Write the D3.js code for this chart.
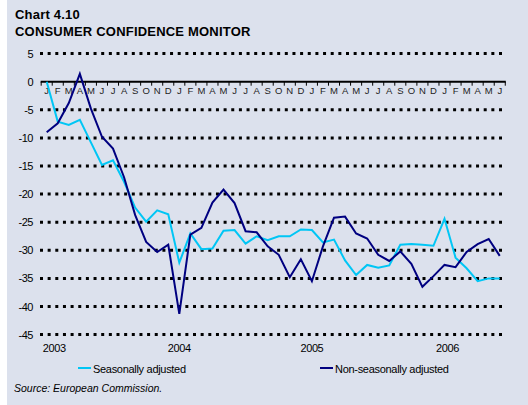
<!DOCTYPE html>
<html>
<head>
<meta charset="utf-8">
<script src="https://cdn.jsdelivr.net/npm/d3@7"></script>
<style>
  html, body { margin: 0; padding: 0; background: #fff; }
  svg { display: block; font-family: "Liberation Sans", Arial, sans-serif; }
</style>
</head>
<body>
<div id="chart"></div>
<script>
// monthly data, Jan 2003 .. Jun 2006
const monthLetters = ["J","F","M","A","M","J","J","A","S","O","N","D"];
const years = [2003, 2004, 2005, 2006];
const yTicks = [5, 0, -5, -10, -15, -20, -25, -30, -35, -40, -45];

const seasonal = [
    0, -7.1, -7.7, -6.8, -10.8, -14.8, -14.0, -17.8, -22.4, -24.9, -22.9, -23.6,
    -32.2, -27.0, -29.8, -29.7, -26.5, -26.4, -28.8, -27.5, -28.2, -27.5, -27.5, -26.3,
    -26.4, -28.6, -28.1, -31.8, -34.4, -32.6, -33.1, -32.7, -29.0, -28.9, -29.0, -29.2,
    -24.4, -31.3, -33.2, -35.5, -35.0, -35.0
];
const nonSeasonal = [
    -9.0, -7.4, -3.8, 1.4, -4.8, -9.8, -11.9, -17.0, -23.7, -28.5, -30.3, -29.0,
    -41.3, -27.2, -26.0, -21.5, -19.2, -21.6, -26.6, -26.8, -29.3, -30.8, -34.8, -31.6,
    -35.5, -29.3, -24.2, -24.0, -27.0, -27.9, -30.8, -31.9, -30.2, -32.4, -36.5, -34.6,
    -32.6, -33.0, -30.3, -28.9, -28.0, -31.0
];

const width = 528, height = 405;
const bg = "#dce1ed";
const lightBlue = "#00c6f5";
const navy = "#000080";

const svg = d3.select("#chart")
    .append("svg")
    .attr("width", width)
    .attr("height", height)
    .attr("viewBox", [0, 0, width, height]);

svg.append("rect")
    .attr("x", 7).attr("y", 0)
    .attr("width", width - 7).attr("height", height)
    .attr("fill", bg);

// titles
svg.append("text")
    .attr("x", 15).attr("y", 18.5)
    .style("font-size", "13px").style("font-weight", "bold")
    .style("letter-spacing", "0.2px")
    .text("Chart 4.10");
svg.append("text")
    .attr("x", 15).attr("y", 36)
    .style("font-size", "13px").style("font-weight", "bold")
    .style("letter-spacing", "0.2px")
    .text("CONSUMER CONFIDENCE MONITOR");

const n = seasonal.length;
const x = d3.scaleLinear().domain([0, n - 1]).range([46.7, 46.7 + 11.05 * (n - 1)]);
const y = d3.scaleLinear().domain([5, -45]).range([53.6, 334.6]);

// dotted grid lines
svg.append("g")
    .selectAll("line")
    .data(yTicks.filter(d => d !== 0))
    .join("line")
    .attr("x1", 40).attr("x2", 504)
    .attr("y1", d => y(d)).attr("y2", d => y(d))
    .attr("stroke", "#000")
    .attr("stroke-width", 3)
    .attr("stroke-dasharray", "3,4.65");

// y labels
svg.append("g")
    .selectAll("text")
    .data(yTicks)
    .join("text")
    .attr("x", 33)
    .attr("y", d => y(d) + 4)
    .attr("text-anchor", "end")
    .style("font-size", "11px")
    .style("letter-spacing", "-0.5px")
    .text(d => d);

// zero axis with month ticks at month boundaries
const x0 = x(-0.5), x1 = x(n - 0.5);
svg.append("line")
    .attr("x1", x0 - 0.5).attr("x2", x1 + 0.5)
    .attr("y1", y(0)).attr("y2", y(0))
    .attr("stroke", "#000").attr("stroke-width", 2);
svg.append("g")
    .selectAll("line")
    .data(d3.range(n + 1))
    .join("line")
    .attr("x1", d => x(d - 0.5)).attr("x2", d => x(d - 0.5))
    .attr("y1", y(0)).attr("y2", y(0) + 4)
    .attr("stroke", "#000").attr("stroke-width", 1);

svg.append("g")
    .selectAll("text")
    .data(d3.range(n))
    .join("text")
    .attr("x", d => x(d))
    .attr("y", y(0) + 12.5)
    .attr("text-anchor", "middle")
    .style("font-size", "9.5px")
    .style("fill", "#222")
    .text(d => monthLetters[d % 12]);

// year labels
svg.append("g")
    .selectAll("text")
    .data(years)
    .join("text")
    .attr("x", (d, i) => x(i * 12) + (i === 0 ? 7.5 : i === 3 ? 3 : 0))
    .attr("y", 352)
    .attr("text-anchor", "middle")
    .style("font-size", "11px")
    .style("letter-spacing", "-0.4px")
    .text(d => d);

// lines
const line = d3.line()
    .x((d, i) => x(i))
    .y(d => y(d));

svg.append("path")
    .datum(seasonal)
    .attr("d", line)
    .attr("fill", "none")
    .attr("stroke", lightBlue)
    .attr("stroke-width", 2);

svg.append("path")
    .datum(nonSeasonal)
    .attr("d", line)
    .attr("fill", "none")
    .attr("stroke", navy)
    .attr("stroke-width", 2);

// legend
const legendItems = [
    {label: "Seasonally adjusted", color: lightBlue, x: 78},
    {label: "Non-seasonally adjusted", color: navy, x: 320}
];
const lg = svg.append("g")
    .selectAll("g")
    .data(legendItems)
    .join("g")
    .attr("transform", d => `translate(${d.x},368)`);
lg.append("line")
    .attr("x1", 0).attr("x2", 13)
    .attr("stroke", d => d.color)
    .attr("stroke-width", 2);
lg.append("text")
    .attr("x", 15).attr("y", 5)
    .style("font-size", "11px")
    .style("letter-spacing", "-0.3px")
    .text(d => d.label);

svg.append("text")
    .attr("x", 14).attr("y", 392)
    .style("font-size", "10.5px")
    .style("font-style", "italic")
    .text("Source: European Commission.");
</script>
</body>
</html>
